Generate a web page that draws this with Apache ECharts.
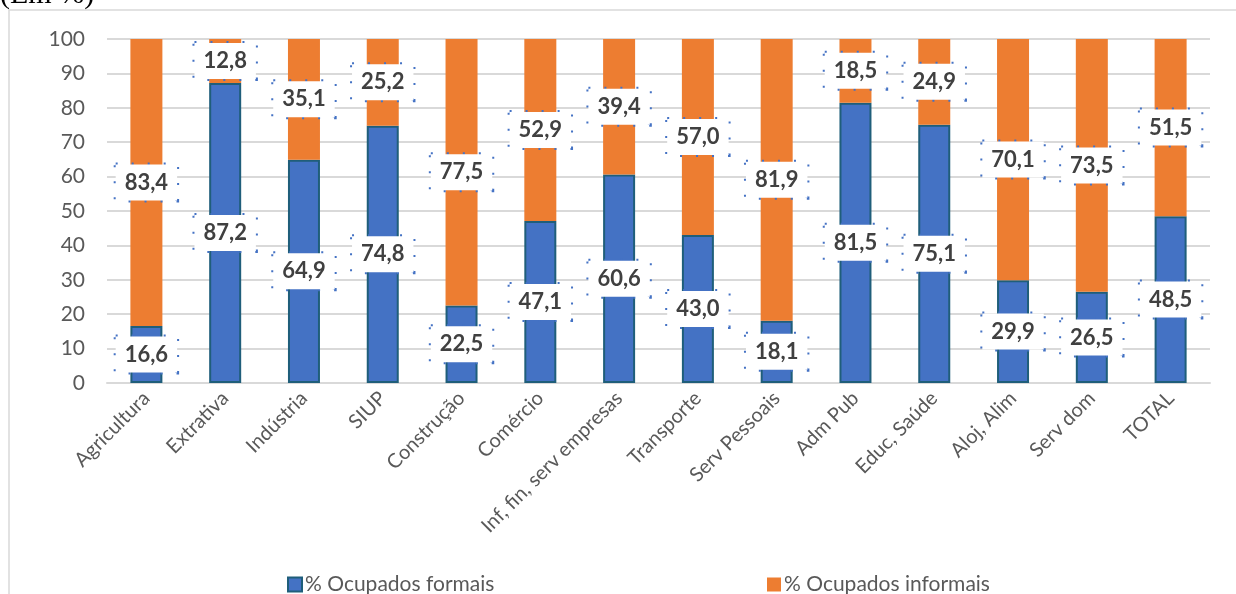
<!DOCTYPE html>
<html>
<head>
<meta charset="utf-8">
<script src="https://cdn.jsdelivr.net/npm/echarts@6/dist/echarts.min.js"></script>
<style>
  html, body { margin: 0; padding: 0; background: #fff; }
  #chart { width: 1236px; height: 594px; }
</style>
</head>
<body>
<div id="chart"></div>
<script>
// categorias e percentuais
const setores = ['Agricultura', 'Extrativa', 'Indústria', 'SIUP', 'Construção', 'Comércio',
  'Inf, fin, serv empresas', 'Transporte', 'Serv Pessoais', 'Adm Pub', 'Educ, Saúde',
  'Aloj, Alim', 'Serv dom', 'TOTAL']
const formais = [16.6, 87.2, 64.9, 74.8, 22.5, 47.1, 60.6, 43.0, 18.1, 81.5, 75.1, 29.9, 26.5, 48.5]
const informais = [83.4, 12.8, 35.1, 25.2, 77.5, 52.9, 39.4, 57.0, 81.9, 18.5, 24.9, 70.1, 73.5, 51.5]
const yTicks = [0, 10, 20, 30, 40, 50, 60, 70, 80, 90, 100]

const fonte = 'Lato, "Open Sans", sans-serif'

// rótulo com fundo branco e borda pontilhada, igual ao Excel
const rotulo = {
  show: true,
  position: 'inside',
  formatter: p => p.value.toFixed(1).replace('.', ','),
  fontFamily: fonte,
  fontSize: 22,
  fontWeight: 'bold',
  color: '#404040',
  backgroundColor: '#fff',
  borderColor: '#4472C4',
  borderWidth: 2,
  borderType: [2, 14],
  padding: [8, 9, 6, 9]
}

const chart = echarts.init(document.getElementById('chart'))
chart.setOption({
  animation: false,
  textStyle: { fontFamily: fonte },
  grid: { left: 107, right: 26, top: 39, bottom: 211, containLabel: false },
  graphic: [
    {
      type: 'rect',
      shape: { x: 9, y: 10, width: 1240, height: 600 },
      style: { fill: 'none', stroke: '#d9d9d9', lineWidth: 1.5 },
      silent: true
    },
    {
      type: 'text',
      left: 0,
      top: -20,
      style: { text: '(Em %)', font: '30px "Liberation Serif", serif', fill: '#000' },
      silent: true
    }
  ],
  legend: [
    {
      data: ['% Ocupados formais'],
      left: 282, top: 569,
      itemWidth: 14, itemHeight: 14, icon: 'rect', itemGap: 4,
      textStyle: { fontSize: 21, color: '#595959', padding: [0, 0, 0, -2] }
    },
    {
      data: ['% Ocupados informais'],
      left: 762, top: 569,
      itemWidth: 14, itemHeight: 14, icon: 'rect',
      textStyle: { fontSize: 21, color: '#595959', padding: [0, 0, 0, -2] }
    }
  ],
  xAxis: {
    type: 'category',
    data: setores,
    axisLine: { lineStyle: { color: '#d9d9d9', width: 2 } },
    axisTick: { show: false },
    axisLabel: {
      interval: 0,
      rotate: 45,
      fontSize: 20,
      color: '#595959',
      margin: 12
    }
  },
  yAxis: {
    type: 'value',
    min: yTicks[0],
    max: yTicks[yTicks.length - 1],
    interval: 10,
    axisLine: { show: false },
    axisTick: { show: false },
    axisLabel: { fontSize: 21, color: '#595959', margin: 22 },
    splitLine: { lineStyle: { color: '#d9d9d9', width: 2 } }
  },
  series: [
    {
      name: '% Ocupados formais',
      type: 'bar',
      stack: 'total',
      barWidth: 32,
      data: formais,
      itemStyle: { color: '#4472C4', borderColor: '#1F5E7A', borderWidth: 2 },
      label: rotulo
    },
    {
      name: '% Ocupados informais',
      type: 'bar',
      stack: 'total',
      barWidth: 32,
      data: informais,
      itemStyle: { color: '#ED7D31' },
      label: rotulo
    }
  ]
})
</script>
</body>
</html>
